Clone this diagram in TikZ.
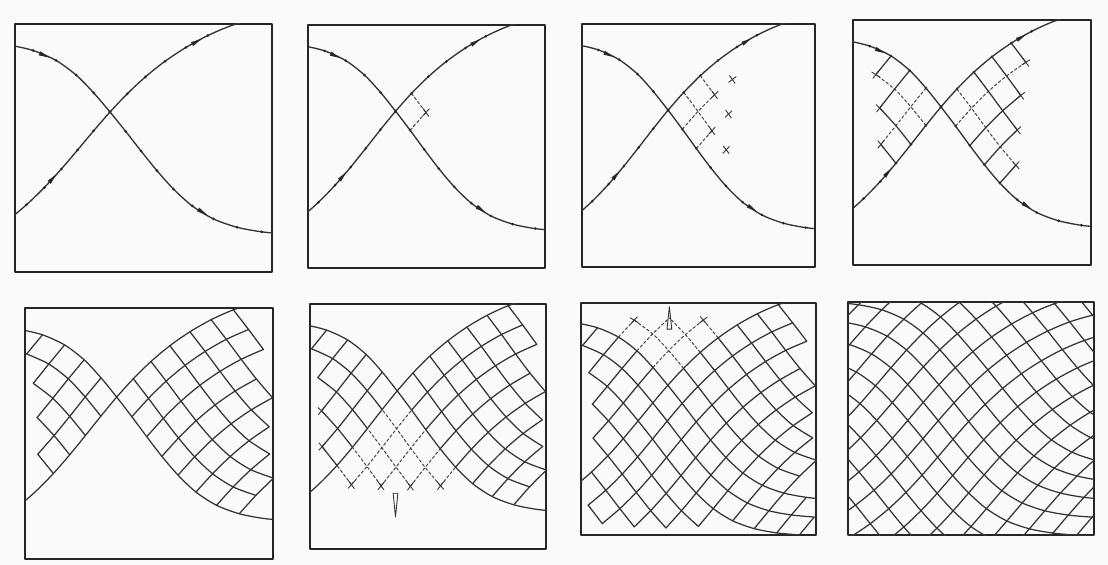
\documentclass[tikz,border=0pt]{standalone}
\usepackage{tikz}
\usetikzlibrary{arrows.meta}

% step along the two given lines (px of the scan)
\def\hstep{25}
% panel box, crossing of the two given lines at the origin
\def\bxl{-95}\def\bxr{162}\def\byb{-160}\def\byt{88}
\newcommand\boxfilter{\def\xlo{-96}\def\xhi{163}\def\ylo{-161}\def\yhi{89}}
\newcommand\nofilter{\def\xlo{-9999}\def\xhi{9999}\def\ylo{-9999}\def\yhi{9999}}
\boxfilter

% tangent angles at the nodes of the two given lines
\newcommand\setangles[2]{%
  \foreach \k/\va in {#2}{\expandafter\xdef\csname #1\k\endcsname{\va}}}
\setangles{tb}{-9/20,-8/25,-7/31,-6/37,-5/42,-4/46,-3/49,-2/50,-1/50,0/48,%
1/45,2/41,3/36,4/31,5/26,6/20,7/13,8/7,9/3,10/1}
\setangles{ta}{-11/180,-10/179,-9/177,-8/173,-7/166,-6/155,-5/142,-4/134,%
-3/130,-2/128,-1/128,0/130,1/131,2/138,3/150,4/163,5/172,6/177,7/179,8/180}

% nodes of a given line, stepping out from the crossing
\newcommand\march[4]{%
  \expandafter\xdef\csname #2x0\endcsname{0}%
  \expandafter\xdef\csname #2y0\endcsname{0}%
  \foreach \k in {1,...,#3}{%
    \pgfmathtruncatemacro\kprev{\k-1}%
    \pgfmathsetmacro\segang{(\csname #1\kprev\endcsname+\csname #1\k\endcsname)/2}%
    \pgfmathsetmacro\qx{(\csname #2x\kprev\endcsname)+\hstep*cos(\segang)}%
    \pgfmathsetmacro\qy{(\csname #2y\kprev\endcsname)+\hstep*sin(\segang)}%
    \expandafter\xdef\csname #2x\k\endcsname{\qx}%
    \expandafter\xdef\csname #2y\k\endcsname{\qy}}%
  \foreach \k in {-1,...,#4}{%
    \pgfmathtruncatemacro\kprev{\k+1}%
    \pgfmathsetmacro\segang{(\csname #1\kprev\endcsname+\csname #1\k\endcsname)/2}%
    \pgfmathsetmacro\qx{(\csname #2x\kprev\endcsname)-\hstep*cos(\segang)}%
    \pgfmathsetmacro\qy{(\csname #2y\kprev\endcsname)-\hstep*sin(\segang)}%
    \expandafter\xdef\csname #2x\k\endcsname{\qx}%
    \expandafter\xdef\csname #2y\k\endcsname{\qy}}}
\march{tb}{b}{10}{-9}
\march{ta}{a}{8}{-11}

% node (i,j) of the net
\newcommand\nodexy[2]{%
  \pgfmathsetmacro\qx{(\csname bx#1\endcsname)+(\csname ax#2\endcsname)}%
  \pgfmathsetmacro\qy{(\csname by#1\endcsname)+(\csname ay#2\endcsname)}}
\newcommand\keepnode[1]{%
  \pgfmathtruncatemacro\ok{(\ring<=#1)*(\qx>=\xlo)*(\qx<=\xhi)*(\qy>=\ylo)*(\qy<=\yhi)}%
  \ifnum\ok=1
    \xdef\ptlist{\ptlist(\qx,\qy)}%
    \pgfmathtruncatemacro\cnt{\ptcount+1}\xdef\ptcount{\cnt}%
  \fi}
\newcommand\drawlist[1]{%
  \ifnum\ptcount>1
    \edef\tmpdraw{\noexpand\draw[#1] plot[smooth] coordinates {\ptlist};}\tmpdraw
  \fi}
% line j = const (like the rising line)
\newcommand\linej[5][]{%
  \gdef\ptlist{}\gdef\ptcount{0}%
  \foreach \k in {#3,...,#4}{%
    \nodexy{\k}{#2}%
    \pgfmathtruncatemacro\ring{abs(\k)+abs(#2)}%
    \keepnode{#5}}%
  \drawlist{#1}}
% line i = const (like the falling line)
\newcommand\linei[5][]{%
  \gdef\ptlist{}\gdef\ptcount{0}%
  \foreach \k in {#3,...,#4}{%
    \nodexy{#2}{\k}%
    \pgfmathtruncatemacro\ring{abs(\k)+abs(#2)}%
    \keepnode{#5}}%
  \drawlist{#1}}
% all lines of a part of the net: jstyle, istyle, i1, i2, j1, j2, ring
\newcommand\region[7]{%
  \foreach \jj in {#5,...,#6}{\ifnum\jj=0 \else\linej[#1]{\jj}{#3}{#4}{#7}\fi}%
  \foreach \ii in {#3,...,#4}{\ifnum\ii=0 \else\linei[#2]{\ii}{#5}{#6}{#7}\fi}}

\newcommand\givenlines[1]{%
  \begin{scope}
    \clip (\bxl,\byb) rectangle (\bxr,\byt);
    \nofilter
    \linej[#1]{0}{-9}{10}{99}\linei[#1]{0}{-11}{8}{99}
  \end{scope}}
\newcommand\dotin{%
  \pgfmathtruncatemacro\ok{(\qx>\bxl+3)*(\qx<\bxr-3)*(\qy>\byb+3)*(\qy<\byt-3)}%
  \ifnum\ok=1 \fill[black!85] (\qx,\qy) circle[radius=1.5];\fi}
\newcommand\sepdots{%
  \foreach \k in {-9,...,10}{\nodexy{\k}{0}\dotin}%
  \foreach \k in {-11,...,8}{\nodexy{0}{\k}\dotin}}
\newcommand\arrB[2]{%
  \pgfmathsetmacro\arx{((\csname bx#1\endcsname)+(\csname bx#2\endcsname))/2}%
  \pgfmathsetmacro\ary{((\csname by#1\endcsname)+(\csname by#2\endcsname))/2}%
  \pgfmathsetmacro\ara{(\csname tb#1\endcsname+\csname tb#2\endcsname)/2}%
  \fill[black!85, shift={(\arx,\ary)}, rotate=\ara] (5.5,0) -- (-5.5,2.2) -- (-5.5,-2.2) -- cycle;}
\newcommand\arrA[2]{%
  \pgfmathsetmacro\arx{((\csname ax#1\endcsname)+(\csname ax#2\endcsname))/2}%
  \pgfmathsetmacro\ary{((\csname ay#1\endcsname)+(\csname ay#2\endcsname))/2}%
  \pgfmathsetmacro\ara{(\csname ta#1\endcsname+\csname ta#2\endcsname)/2-180}%
  \fill[black!85, shift={(\arx,\ary)}, rotate=\ara] (5.5,0) -- (-5.5,2.2) -- (-5.5,-2.2) -- cycle;}
\newcommand\marked{\sepdots\arrA{3}{4}\arrA{-5}{-6}\arrB{-4}{-3}\arrB{4}{5}}
% short crossing strokes at a node
\newcommand\xmark[2]{%
  \nodexy{#1}{#2}%
  \draw[tick] (\qx,\qy) ++(\csname tb#1\endcsname:5) -- ++(\csname tb#1\endcsname+180:10);
  \draw[tick] (\qx,\qy) ++(\csname ta#2\endcsname:5) -- ++(\csname ta#2\endcsname+180:10);}
% narrow wedge on a node, #3 = 1 up, -1 down
\newcommand\pointer[3]{%
  \nodexy{#1}{#2}%
  \pgfmathsetmacro\wbase{\qy-12*#3}\pgfmathsetmacro\wtip{\qy+12*#3}%
  \draw[tick] (\qx-2.6,\wbase) -- (\qx+2.6,\wbase) -- (\qx,\wtip) -- cycle;}

\begin{document}
\begin{tikzpicture}[x=0.2mm, y=0.2mm, line cap=round, line join=round,
  frame/.style={line width=1pt, draw=black!85},
  net/.style={line width=0.7pt, draw=black!80},
  netdash/.style={line width=0.55pt, draw=black!75, dash pattern=on 1.6pt off 1.3pt},
  sep/.style={line width=0.75pt, draw=black!80},
  tick/.style={line width=0.5pt, draw=black!80}]
\useasboundingbox (0,0) rectangle (1108,565);
\fill[black!2] (0,0) rectangle (1108,565);

% first row
\begin{scope}[shift={(110,453)}]
  \draw[frame] (\bxl,\byb) rectangle (\bxr,\byt);
  \givenlines{sep}\marked
\end{scope}
\begin{scope}[shift={(395.6,453.8)}, xscale=0.922, yscale=0.98]
  \draw[frame] (\bxl,\byb) rectangle (\bxr,\byt);
  \givenlines{sep}\marked
  \region{netdash}{netdash}{0}{1}{0}{-1}{2}
  \xmark{1}{-1}
\end{scope}
\begin{scope}[shift={(668.1,454.8)}, xscale=0.907, yscale=0.98]
  \draw[frame] (\bxl,\byb) rectangle (\bxr,\byt);
  \givenlines{sep}\marked
  \region{netdash}{netdash}{0}{2}{0}{-2}{3}
  \xmark{2}{-1}\xmark{1}{-2}
  \xmark{3}{-1}\xmark{2}{-2}\xmark{1}{-3}
\end{scope}
\begin{scope}[shift={(941,458.1)}, xscale=0.926, yscale=0.988]
  \draw[frame] (\bxl,\byb) rectangle (\bxr,\byt);
  \givenlines{sep}\marked
  % right part: first lines still dashed
  \linej[netdash]{-1}{0}{5}{5}\linei[netdash]{1}{0}{-5}{5}
  \foreach \jj in {-2,...,-4}{\linej[net]{\jj}{0}{5}{5}}
  \foreach \ii in {2,...,4}{\linei[net]{\ii}{0}{-5}{5}}
  % left part
  \linej[netdash]{1}{0}{-4}{4}\linei[netdash]{-1}{0}{4}{4}
  \foreach \jj in {2,3}{\linej[net]{\jj}{0}{-4}{4}}
  \foreach \ii in {-2,-3}{\linei[net]{\ii}{0}{4}{4}}
  \xmark{4}{-1}\xmark{3}{-2}\xmark{2}{-3}\xmark{1}{-4}
  \xmark{-1}{3}\xmark{-2}{2}\xmark{-3}{1}
\end{scope}

% second row
\begin{scope}[shift={(116.7,167.9)}, xscale=0.965, yscale=1.012]
  \draw[frame] (\bxl,\byb) rectangle (\bxr,\byt);
  \givenlines{net}
  \region{net}{net}{0}{6}{-11}{0}{99}
  \region{net}{net}{-9}{0}{0}{8}{99}
\end{scope}
\begin{scope}[shift={(397.2,174.1)}, xscale=0.918, yscale=0.988]
  \draw[frame] (\bxl,\byb) rectangle (\bxr,\byt);
  \givenlines{net}
  \region{net}{net}{0}{6}{-11}{0}{99}
  \region{net}{net}{-9}{0}{0}{8}{99}
  \region{netdash}{netdash}{-9}{0}{-11}{0}{5}
  \xmark{-4}{-1}\xmark{-3}{-2}\xmark{-2}{-3}\xmark{-1}{-4}
  \xmark{-3}{2}\xmark{-4}{1}
  \pointer{-3}{-3}{-1}
\end{scope}
\begin{scope}[shift={(667.8,179.7)}, xscale=0.914, yscale=0.935]
  \draw[frame] (\bxl,\byb) rectangle (\bxr,\byt);
  \givenlines{net}
  \region{net}{net}{-9}{6}{-11}{0}{99}
  \region{net}{net}{-9}{0}{0}{8}{99}
  \region{netdash}{netdash}{0}{10}{0}{8}{4}
  \xmark{1}{3}\xmark{3}{1}
  \pointer{2}{2}{1}
\end{scope}
\begin{scope}[shift={(938.9,180.3)}, xscale=0.957, yscale=0.94]
  \draw[frame] (\bxl,\byb) rectangle (\bxr,\byt);
  \givenlines{net}
  \begin{scope}
    \clip (\bxl,\byb) rectangle (\bxr,\byt);
    \nofilter
    \region{net}{net}{-9}{10}{-11}{8}{99}
  \end{scope}
\end{scope}
\end{tikzpicture}
\end{document}
